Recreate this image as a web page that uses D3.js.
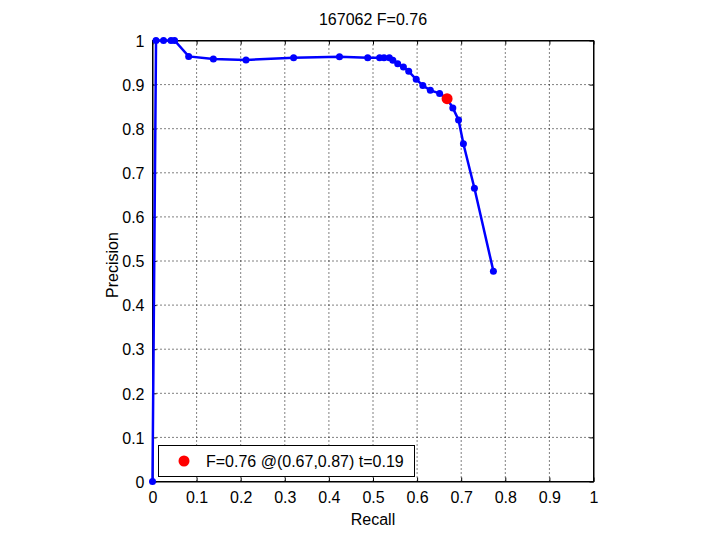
<!DOCTYPE html>
<html>
<head>
<meta charset="utf-8">
<script src="https://cdn.jsdelivr.net/npm/d3@7"></script>
<style>
body{margin:0;background:#fff;}
text{font-family:"Liberation Sans",Arial,sans-serif;}
</style>
</head>
<body>
<script>
const title = "167062 F=0.76";
const xLabel = "Recall";
const yLabel = "Precision";
const tickValues = [0,0.1,0.2,0.3,0.4,0.5,0.6,0.7,0.8,0.9,1];
const tickLabels = ["0","0.1","0.2","0.3","0.4","0.5","0.6","0.7","0.8","0.9","1"];
const recall = [0,0.008,0.025,0.042,0.05,0.082,0.138,0.212,0.32,0.424,0.488,0.515,0.525,0.537,0.545,0.556,0.569,0.581,0.598,0.613,0.630,0.651,0.668,0.681,0.694,0.705,0.730,0.773];
const precision = [0,1,1,1,1,0.964,0.958,0.956,0.961,0.963,0.961,0.961,0.961,0.961,0.955,0.947,0.940,0.930,0.912,0.898,0.887,0.880,0.868,0.847,0.820,0.766,0.665,0.477];
const bestR = [0.668];
const bestP = [0.868];
const legendText = "F=0.76 @(0.67,0.87) t=0.19";

const W=720,H=540;
const FS=16;
const svg=d3.select("body").append("svg").attr("width",W).attr("height",H);
const L=152.5,R=593.5,T=40.5,B=481.5;
const x=d3.scaleLinear().domain([0,1]).range([L,R]);
const y=d3.scaleLinear().domain([0,1]).range([B,T]);

// grid
const g=svg.append("g");
tickValues.filter(v=>v>0&&v<1).forEach(v=>{
  g.append("line").attr("x1",x(v)).attr("x2",x(v)).attr("y1",T).attr("y2",B)
   .attr("stroke","#000").attr("stroke-width",1).attr("stroke-dasharray","1,3");
  g.append("line").attr("x1",L).attr("x2",R).attr("y1",y(v)).attr("y2",y(v))
   .attr("stroke","#000").attr("stroke-width",1).attr("stroke-dasharray","1,3");
});

// axes
const fmt=(d)=>tickLabels[tickValues.indexOf(d)];
const ax=svg.append("g").attr("transform",`translate(0,${B})`).call(d3.axisBottom(x).tickValues(tickValues).tickFormat(fmt).tickSizeInner(-4).tickSizeOuter(0).tickPadding(10));
const axT=svg.append("g").attr("transform",`translate(0,${T})`).call(d3.axisTop(x).tickValues(tickValues).tickFormat("").tickSizeInner(-4).tickSizeOuter(0));
const ay=svg.append("g").attr("transform",`translate(${L},0)`).call(d3.axisLeft(y).tickValues(tickValues).tickFormat(fmt).tickSizeInner(-4).tickSizeOuter(0).tickPadding(8));
const ayR=svg.append("g").attr("transform",`translate(${R},0)`).call(d3.axisRight(y).tickValues(tickValues).tickFormat("").tickSizeInner(-4).tickSizeOuter(0));
[ax,axT,ay,ayR].forEach(a=>{
  a.selectAll("path").attr("stroke","#000");
  a.selectAll("line").attr("stroke","#000");
  a.selectAll("text").attr("font-size",FS).attr("fill","#000").attr("font-family","'Liberation Sans',Arial,sans-serif");
});
ax.selectAll("text").attr("dy","0.71em");
ay.selectAll("text").attr("dy","0.36em");

// box
svg.append("rect").attr("x",L).attr("y",T).attr("width",R-L).attr("height",B-T).attr("fill","none").attr("stroke","#000");

// curve
const pts=recall.map((r,i)=>[r,precision[i]]);
svg.append("path").datum(pts).attr("fill","none").attr("stroke","#0000ff").attr("stroke-width",2.5)
  .attr("d",d3.line().x(d=>x(d[0])).y(d=>y(d[1])));
svg.selectAll("circle.pt").data(pts).enter().append("circle").attr("class","pt")
  .attr("cx",d=>x(d[0])).attr("cy",d=>y(d[1])).attr("r",3.5).attr("fill","#0000ff");
svg.selectAll("circle.best").data(bestR).enter().append("circle").attr("class","best")
  .attr("cx",(d)=>x(d)).attr("cy",(d,i)=>y(bestP[i])).attr("r",5.5).attr("fill","#ff0000");

// legend
svg.append("rect").attr("x",158.5).attr("y",445.5).attr("width",256).attr("height",31).attr("fill","#fff").attr("stroke","#000");
svg.append("circle").attr("cx",184).attr("cy",461).attr("r",5.5).attr("fill","#ff0000");
svg.append("text").attr("x",206).attr("y",467).attr("font-size",FS).text(legendText);

// labels
svg.append("text").attr("x",373).attr("y",25).attr("text-anchor","middle").attr("font-size",FS).text(title);
svg.append("text").attr("x",373).attr("y",525).attr("text-anchor","middle").attr("font-size",FS).text(xLabel);
svg.append("text").attr("transform","translate(118,265) rotate(-90)").attr("text-anchor","middle").attr("font-size",FS).text(yLabel);
</script>
</body>
</html>
